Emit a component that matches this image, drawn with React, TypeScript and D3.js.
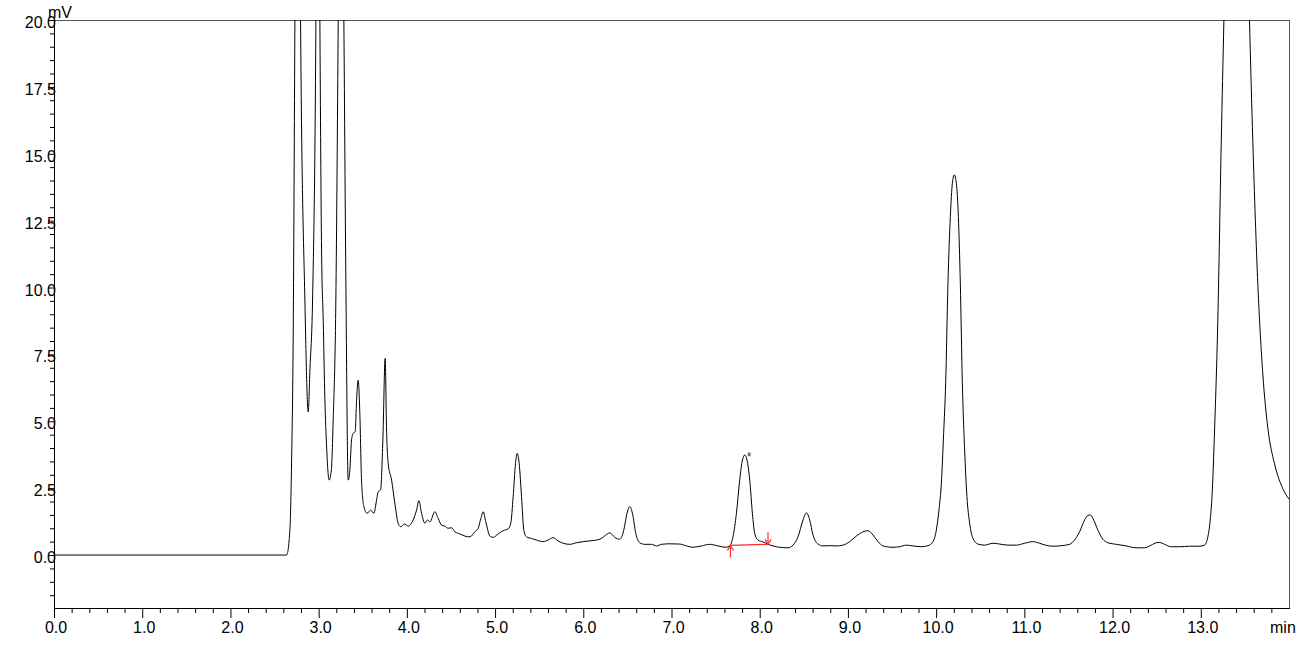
import React from "react";
import * as d3 from "d3";

// Chromatogram trace: retention time (min) and signal (mV)
const times = [
  0, 2.6, 2.637, 2.674, 2.693, 2.712, 2.731, 2.77, 2.795, 2.844, 2.882, 2.901, 2.931, 2.969, 2.991, 3.014,
  3.033, 3.052, 3.071, 3.09, 3.119, 3.144, 3.165, 3.195, 3.222, 3.252, 3.286, 3.309, 3.335, 3.354, 3.373,
  3.391, 3.414, 3.43, 3.448, 3.467, 3.486, 3.513, 3.55, 3.589, 3.626, 3.657, 3.675, 3.702, 3.728, 3.754,
  3.77, 3.788, 3.827, 3.864, 3.901, 3.929, 3.977, 4.015, 4.071, 4.11, 4.136, 4.167, 4.204, 4.235, 4.261,
  4.317, 4.355, 4.393, 4.431, 4.468, 4.507, 4.544, 4.601, 4.657, 4.714, 4.771, 4.808, 4.839, 4.865, 4.895,
  4.941, 4.978, 5.035, 5.091, 5.148, 5.178, 5.205, 5.232, 5.25, 5.273, 5.3, 5.326, 5.356, 5.413, 5.47,
  5.544, 5.601, 5.658, 5.714, 5.771, 5.847, 5.923, 5.998, 6.074, 6.15, 6.206, 6.255, 6.3, 6.357, 6.413,
  6.459, 6.496, 6.527, 6.557, 6.595, 6.64, 6.697, 6.773, 6.83, 6.886, 6.98, 7.093, 7.17, 7.244, 7.34,
  7.433, 7.527, 7.615, 7.66, 7.697, 7.736, 7.773, 7.804, 7.83, 7.856, 7.887, 7.917, 7.943, 7.981, 8.037,
  8.094, 8.151, 8.227, 8.321, 8.377, 8.434, 8.491, 8.529, 8.567, 8.604, 8.661, 8.717, 8.793, 8.869, 8.944,
  9.02, 9.096, 9.171, 9.227, 9.284, 9.341, 9.397, 9.436, 9.51, 9.586, 9.662, 9.737, 9.832, 9.907, 9.964,
  10.002, 10.032, 10.059, 10.085, 10.108, 10.134, 10.161, 10.184, 10.206, 10.229, 10.252, 10.274, 10.297,
  10.323, 10.349, 10.38, 10.417, 10.474, 10.55, 10.644, 10.72, 10.814, 10.909, 11.003, 11.097, 11.173,
  11.249, 11.324, 11.419, 11.513, 11.569, 11.626, 11.683, 11.72, 11.748, 11.777, 11.834, 11.89, 11.947,
  12.042, 12.155, 12.269, 12.363, 12.439, 12.496, 12.533, 12.589, 12.665, 12.759, 12.873, 12.986, 13.042,
  13.08, 13.107, 13.127, 13.157, 13.193, 13.232, 13.262, 13.4, 13.552, 13.59, 13.647, 13.703, 13.76,
  13.836, 13.93, 14.0,
];
const signal = [
  0, 0, 0, 0.93, 3.44, 8.41, 20.0, 40, 20.0, 9.53, 5.35, 6.92, 9.53, 20.0, 35, 20.0,
  11.4, 8.76, 5.79, 4.07, 2.8, 3.18, 5.05, 9.53, 20.0, 35, 20.0, 10.09, 2.8, 3.18, 4.3,
  4.55, 4.61, 5.79, 6.54, 5.3, 2.8, 1.81, 1.56, 1.68, 1.56, 2.06, 2.37, 2.43, 4.3, 7.35,
  4.67, 3.43, 2.8, 1.93, 1.19, 1.06, 1.16, 1.08, 1.31, 1.68, 2.03, 1.56, 1.19, 1.31, 1.24,
  1.62, 1.37, 1.12, 1.08, 1.0, 1.02, 0.87, 0.79, 0.71, 0.68, 0.87, 1.0, 1.37, 1.62, 1.24,
  0.71, 0.66, 0.79, 0.91, 0.98, 1.19, 2.18, 3.43, 3.8, 3.43, 2.18, 0.93, 0.68, 0.62, 0.56,
  0.5, 0.56, 0.65, 0.53, 0.44, 0.4, 0.46, 0.5, 0.53, 0.56, 0.62, 0.75, 0.83, 0.66, 0.59,
  0.93, 1.56, 1.81, 1.56, 0.81, 0.46, 0.4, 0.4, 0.34, 0.4, 0.42, 0.41, 0.34, 0.29, 0.34,
  0.4, 0.34, 0.29, 0.34, 0.68, 1.56, 2.8, 3.55, 3.74, 3.55, 2.8, 1.56, 0.81, 0.56, 0.49,
  0.4, 0.34, 0.29, 0.27, 0.37, 0.68, 1.31, 1.58, 1.31, 0.75, 0.41, 0.34, 0.35, 0.34, 0.37,
  0.5, 0.71, 0.87, 0.91, 0.75, 0.5, 0.34, 0.31, 0.29, 0.31, 0.37, 0.34, 0.31, 0.35, 0.5,
  0.93, 1.68, 2.68, 4.55, 6.42, 10.16, 12.65, 13.9, 14.21, 13.9, 12.65, 10.16, 6.42,
  3.93, 2.18, 1.19, 0.62, 0.41, 0.37, 0.44, 0.41, 0.37, 0.37, 0.44, 0.5, 0.44,
  0.36, 0.33, 0.35, 0.4, 0.56, 0.87, 1.31, 1.48, 1.5, 1.37, 0.93, 0.59, 0.46,
  0.4, 0.34, 0.27, 0.27, 0.37, 0.46, 0.47, 0.4, 0.31, 0.31, 0.33, 0.33, 0.37,
  0.68, 1.31, 2.18, 4.75, 8.76, 15.45, 20.0, 45, 20.0, 15.45, 10.1, 6.77, 4.75,
  3.41, 2.48, 2.09,
];

// Axis ticks
const xMajorTicks = [0, 1, 2, 3, 4, 5, 6, 7, 8, 9, 10, 11, 12, 13];
const xTickLabels = ["0.0", "1.0", "2.0", "3.0", "4.0", "5.0", "6.0", "7.0", "8.0", "9.0", "10.0", "11.0", "12.0", "13.0"];
const yMajorTicks = [0, 2.5, 5, 7.5, 10, 12.5, 15, 17.5, 20];
const yTickLabels = ["0.0", "2.5", "5.0", "7.5", "10.0", "12.5", "15.0", "17.5", "20.0"];

// Integration baseline marker of the starred peak
const markStart = { t: 7.668, v: 0.36 };
const markEnd = { t: 8.094, v: 0.4 };
const starPeak = { t: 7.83, v: 3.74 };

const W = 1312;
const H = 649;
const L = 54;
const R = 1289;
const T = 20;
const B = 608;

export default function App() {
  const x = d3.scaleLinear().domain([0, 14]).range([L, R]);
  const y = d3.scaleLinear().domain([-1.98, 20]).range([B, T]);

  const pts: [number, number][] = times.map((t, i) => [t, signal[i]]);
  const line = d3
    .line<[number, number]>()
    .x((d) => x(d[0]))
    .y((d) => y(d[1]))
    .curve(d3.curveMonotoneX);

  const xMinor = d3.range(0, 14.0001, 0.2).filter((v) => Math.abs(v - Math.round(v)) > 1e-6);
  const yMinor = d3.range(-1.5, 20.0001, 0.5).filter((v) => Math.abs(v / 2.5 - Math.round(v / 2.5)) > 1e-6);

  const font = "Arial, 'Liberation Sans', sans-serif";
  const red = "#ff2a2a";

  const sx = x(markStart.t), sy = y(markStart.v);
  const ex = x(markEnd.t), ey = y(markEnd.v);

  return (
    <svg width={W} height={H} style={{ position: "absolute", left: 0, top: 0, background: "#fff" }}>
      <defs>
        <clipPath id="plotclip">
          <rect x={L} y={T} width={R - L} height={B - T} />
        </clipPath>
      </defs>

      {/* frame */}
      <line x1={L} x2={R} y1={T + 0.5} y2={T + 0.5} stroke="#555" strokeWidth={1} />
      <line x1={R + 0.5} x2={R + 0.5} y1={T} y2={B} stroke="#555" strokeWidth={1} />

      {/* trace */}
      <path d={line(pts) || ""} fill="none" stroke="#000" strokeWidth={1} clipPath="url(#plotclip)" />

      {/* red baseline marker */}
      <g stroke={red} strokeWidth={1.2} fill="none">
        <line x1={sx} y1={sy} x2={ex} y2={ey} />
        <line x1={sx} y1={sy + 12} x2={sx} y2={sy} />
        <polyline points={`${sx - 3},${sy + 5} ${sx},${sy} ${sx + 3},${sy + 5}`} />
        <line x1={ex} y1={ey - 12} x2={ex} y2={ey} />
        <polyline points={`${ex - 3},${ey - 5} ${ex},${ey} ${ex + 3},${ey - 5}`} />
      </g>
      <text x={x(starPeak.t) + 2} y={y(starPeak.v) + 6} fontFamily={font} fontSize={12} fill="#1c2f5c">*</text>

      {/* axes */}
      <line x1={L + 0.5} x2={L + 0.5} y1={T} y2={B} stroke="#000" strokeWidth={1} />
      <line x1={L} x2={R + 1} y1={B + 0.5} y2={B + 0.5} stroke="#000" strokeWidth={1} />

      {/* x ticks */}
      {xMajorTicks.map((v, i) => (
        <g key={"xm" + v}>
          <line x1={x(v) + 0.5} x2={x(v) + 0.5} y1={B} y2={B + 10} stroke="#000" />
          <text x={x(v) + 2} y={633} textAnchor="middle" fontFamily={font} fontSize={16} fill="#000">
            {xTickLabels[i]}
          </text>
        </g>
      ))}
      {xMinor.map((v) => (
        <line key={"xn" + v} x1={x(v) + 0.5} x2={x(v) + 0.5} y1={B} y2={B + 5} stroke="#000" />
      ))}
      <text x={1270} y={633} fontFamily={font} fontSize={16} fill="#000">min</text>

      {/* y ticks */}
      {yMajorTicks.map((v, i) => (
        <g key={"ym" + v}>
          <line x1={L - 6} x2={L} y1={y(v) + 0.5} y2={y(v) + 0.5} stroke="#000" />
          <text x={56} y={y(v) + 8} textAnchor="end" fontFamily={font} fontSize={16} fill="#000">
            {yTickLabels[i]}
          </text>
        </g>
      ))}
      {yMinor.map((v) => (
        <line key={"yn" + v} x1={L - 4} x2={L} y1={y(v) + 0.5} y2={y(v) + 0.5} stroke="#000" />
      ))}
      <text x={48} y={17.5} fontFamily={font} fontSize={16} fill="#000">mV</text>
    </svg>
  );
}
